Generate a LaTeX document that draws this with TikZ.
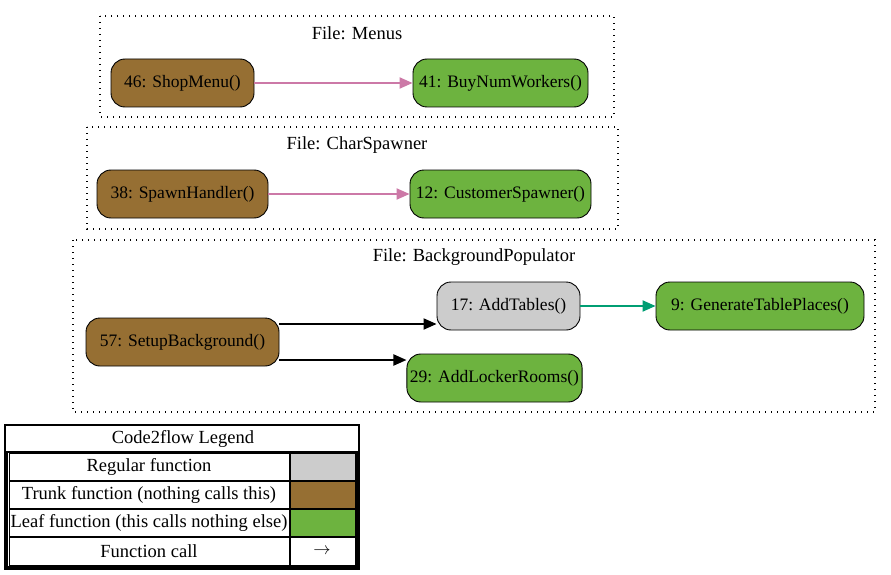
\documentclass[tikz,border=0pt]{standalone}
\usepackage{fontspec}
\setmainfont{Liberation Serif}
\usetikzlibrary{arrows.meta}
\definecolor{trunk}{HTML}{966F33}
\definecolor{leaf}{HTML}{6DB33F}
\definecolor{regular}{HTML}{CCCCCC}
\definecolor{pinkcall}{HTML}{CC79A7}
\definecolor{tealcall}{HTML}{009E73}
\tikzset{
    fn/.style={draw, line width=0.9pt, rounded corners=14pt, minimum height=48pt, inner xsep=3pt, font=\fontsize{17.5}{19}\selectfont},
    filebox/.style={line width=1.4pt, dash pattern=on 1.4pt off 4.6pt},
    call/.style={line width=2pt, -{Triangle[length=13pt,width=11pt]}},
    legcell/.style={draw, line width=0.9pt},
}

\begin{document}
\begin{tikzpicture}[x=1pt,y=-1pt,font=\fontsize{18.5}{20}\selectfont]
            \useasboundingbox (0,0) rectangle (891,575);
            % file boxes
            \draw[filebox] (100,16) rectangle (614,117);
            \node (menus) at (357,33){File: Menus};
            \draw[filebox] (87,127) rectangle (618,229);
            \node (spawner) at (357,145){File: CharSpawner};
            \draw[filebox] (73,240) rectangle (875,412);
            \node (populator) at (474,257){File: BackgroundPopulator};
            % functions
            \node[fn, fill=trunk, minimum width=143pt] (shopmenu) at (182.5,83){46: ShopMenu()};
            \node[fn, fill=leaf, minimum width=175pt] (buynum) at (500.5,83){41: BuyNumWorkers()};
            \node[fn, fill=trunk, minimum width=171pt] (spawnhandler) at (182.5,194){38: SpawnHandler()};
            \node[fn, fill=leaf, minimum width=181pt] (custspawner) at (500.5,194){12: CustomerSpawner()};
            \node[fn, fill=trunk, minimum width=193pt] (setupbg) at (182.5,342){57: SetupBackground()};
            \node[fn, fill=regular, minimum width=143pt] (addtables) at (508.5,306){17: AddTables()};
            \node[fn, fill=leaf, minimum width=208pt] (gentable) at (760,306){9: GenerateTablePlaces()};
            \node[fn, fill=leaf, minimum width=175pt] (lockers) at (494.5,378){29: AddLockerRooms()};
            % calls
            \draw[call, pinkcall] (shopmenu) -- (buynum);
            \draw[call, pinkcall] (spawnhandler) -- (custspawner);
            \draw[call, tealcall] (addtables) -- (gentable);
            \draw[call] (setupbg.east |- 0,324) -- (addtables.west |- 0,324);
            \draw[call] (setupbg.east |- 0,360) -- (lockers.west |- 0,360);
            % legend
            \draw[line width=1.2pt] (5,425) rectangle (359,569);
            \node (legtitle) at (183,439){Code2flow Legend};
            \draw[line width=1.8pt] (7,452) rectangle (357,567);
            \foreach \y/\txt/\col in {453/Regular function/regular,481/Trunk function (nothing calls this)/trunk,509/Leaf function (this calls nothing else)/leaf}{
                \draw[legcell] (9,\y) rectangle (289,\y+27);
                \node (leg\col) at (149,\y+14){\txt};
                \draw[legcell, fill=\col] (290,\y) rectangle (355,\y+27);
            }
            \draw[legcell] (9,537) rectangle (289,565);
            \node (legcall) at (149,551){Function call};
            \draw[legcell] (290,537) rectangle (355,565);
            \node (legarrow) at (322,551){$\rightarrow$};
        \end{tikzpicture}
\end{document}
